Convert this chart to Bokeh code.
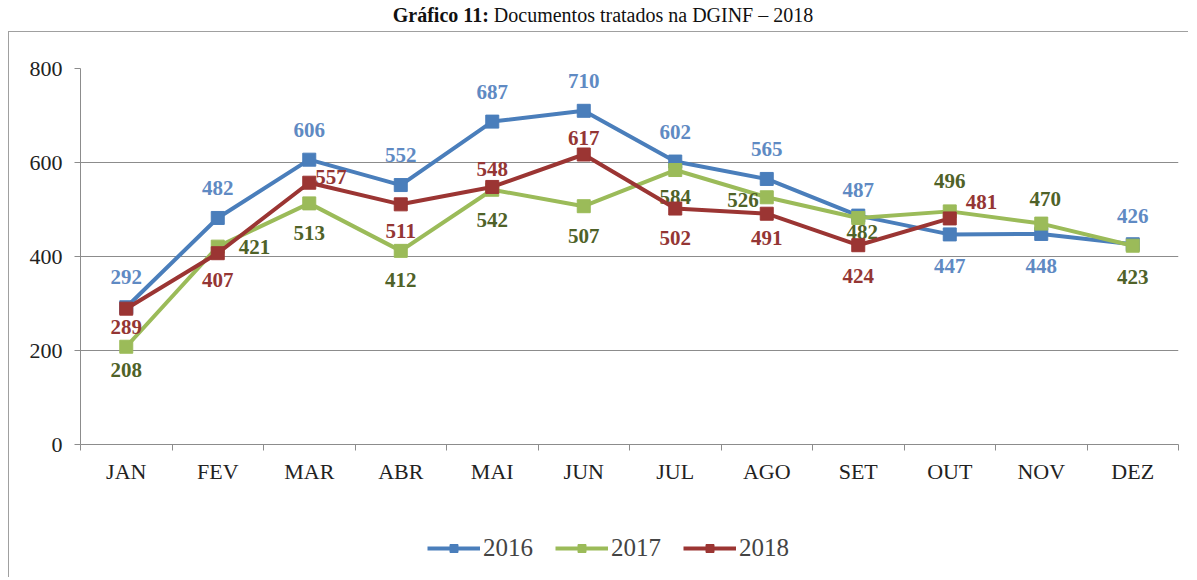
from bokeh.plotting import figure
from bokeh.models import (ColumnDataSource, FixedTicker, Range1d, Legend, LegendItem, Div)
from bokeh.layouts import column
from bokeh.embed import file_html
from bokeh.resources import INLINE
from bokeh.core.properties import value

# ---------------- data ----------------
months = ["JAN", "FEV", "MAR", "ABR", "MAI", "JUN", "JUL", "AGO", "SET", "OUT", "NOV", "DEZ"]
v2016 = [292, 482, 606, 552, 687, 710, 602, 565, 487, 447, 448, 426]
v2017 = [208, 421, 513, 412, 542, 507, 584, 526, 482, 496, 470, 423]
v2018 = [289, 407, 557, 511, 548, 617, 502, 491, 424, 481]
series_names = ["2016", "2017", "2018"]
y_ticks = [0, 200, 400, 600, 800]
title_bold = "Gráfico 11:"
title_rest = "Documentos tratados na DGINF – 2018"

# ---------------- label placement (style only) ----------------
# (dx, dy, align) per point; dy positive = downward in pixels
place_2016 = [(0, -30, "center")] * 9 + [(0, 32, "center"), (0, 32, "center"), (0, -28, "center")]
place_2016[8] = (0, -26, "center")
place_2017 = [(0, 23, "center"), (21, 0, "left"), (0, 30, "center"), (0, 29, "center"),
              (0, 30, "center"), (0, 30, "center"), (0, 27, "center"), (-8, 3, "right"),
              (4, 14, "center"), (0, -30, "center"), (4, -25, "center"), (0, 31, "center")]
place_2018 = [(0, 18, "center"), (0, 27, "center"), (6, -6, "left"), (0, 27, "center"),
              (0, -18, "center"), (0, -17, "center"), (0, 29, "center"), (0, 24, "center"),
              (0, 31, "center"), (16, -16, "left")]

line_colors = ["#4a7ebb", "#9bbb59", "#9b3533"]
label_colors = ["#5f8ac3", "#4f6228", "#943634"]
FONT = "Liberation Serif"
BORDER = "1px solid #a0a0a0"
W = 1180

title = Div(text=(f"<div style=\"font-family:'{FONT}',serif;font-size:20px;color:#111;"
                  f"text-align:center;line-height:21px;width:{W}px\">"
                  f"<b>{title_bold}</b> {title_rest}</div>"),
            width=W, height=21)

p = figure(width=W, height=467, x_range=Range1d(0, 12), y_range=Range1d(0, 800),
           output_backend="svg", toolbar_location=None,
           min_border_left=71, min_border_right=11, min_border_top=36, min_border_bottom=55,
           styles={"border-top": BORDER, "border-left": BORDER})
p.outline_line_color = None
p.background_fill_color = "white"
p.border_fill_color = "white"

# axes
p.xgrid.grid_line_color = None
p.ygrid.grid_line_color = "#8c8c8c"
p.ygrid.grid_line_width = 1
p.yaxis.ticker = FixedTicker(ticks=y_ticks)
p.yaxis.axis_line_color = "#8c8c8c"
p.yaxis.major_tick_line_color = "#8c8c8c"
p.yaxis.major_tick_out = 6
p.yaxis.major_tick_in = 0
p.yaxis.minor_tick_line_color = None
p.yaxis.major_label_standoff = 12
p.yaxis.major_label_text_font = FONT
p.yaxis.major_label_text_font_size = "22px"
p.yaxis.major_label_text_color = "#222222"

centers = [i + 0.5 for i in range(len(months))]
p.xaxis.ticker = FixedTicker(ticks=centers, minor_ticks=list(range(len(months) + 1)))
p.xaxis.major_label_overrides = {c: m for c, m in zip(centers, months)}
p.xaxis.axis_line_color = "#8c8c8c"
p.xaxis.major_tick_line_color = None
p.xaxis.minor_tick_line_color = "#8c8c8c"
p.xaxis.minor_tick_out = 6
p.xaxis.minor_tick_in = 0
p.xaxis.major_label_standoff = 8
p.xaxis.major_label_text_font = FONT
p.xaxis.major_label_text_font_size = "22px"
p.xaxis.major_label_text_color = "#222222"

# legend strip (separate small figure under the chart)
lg = figure(width=W, height=79, x_range=Range1d(0, 1), y_range=Range1d(0, 1),
            output_backend="svg", toolbar_location=None, min_border=0,
            min_border_left=0, min_border_right=0, min_border_top=0, min_border_bottom=0,
            styles={"border-left": BORDER})
lg.axis.visible = False
lg.grid.visible = False
lg.outline_line_color = None

NAN = float("nan")
items = []
for name, vals, place, lc, tc in zip(series_names, [v2016, v2017, v2018],
                                      [place_2016, place_2017, place_2018],
                                      line_colors, label_colors):
    n = len(vals)
    src = ColumnDataSource(dict(
        x=centers[:n], y=vals, label=[str(v) for v in vals],
        dx=[pl[0] for pl in place[:n]], dy=[pl[1] for pl in place[:n]],
        align=[pl[2] for pl in place[:n]]))
    p.line("x", "y", source=src, line_color=lc, line_width=4)
    p.scatter("x", "y", source=src, marker="square", size=13,
              fill_color=lc, line_color=lc)
    p.text("x", "y", text="label", source=src, x_offset="dx", y_offset="dy",
           text_align="align", text_baseline="middle", text_color=tc,
           text_font=value(FONT), text_font_style="bold", text_font_size="21px")
    # legend glyphs (no visible data in the strip itself)
    ln = lg.line(x=[NAN], y=[NAN], line_color=lc, line_width=4)
    sc = lg.scatter(x=[NAN], y=[NAN], marker="square", size=13, fill_color=lc, line_color=lc)
    items.append(LegendItem(label=name, renderers=[ln, sc]))

legend = Legend(items=items, orientation="horizontal", location=(347, 15),
                border_line_color=None, background_fill_alpha=0,
                label_text_font=FONT, label_text_font_size="25px",
                glyph_width=53, glyph_height=20, spacing=22, label_standoff=3,
                padding=0, margin=0)
lg.add_layout(legend)

layout = column(title, p, lg, spacing=0, styles={"margin-left": "8px"})
open("out.html", "w").write(file_html(layout, INLINE))
